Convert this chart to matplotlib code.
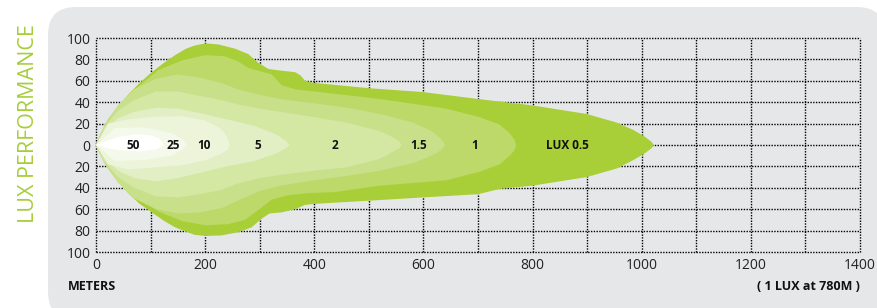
import numpy as np
import matplotlib
matplotlib.use("Agg")
import matplotlib.pyplot as plt
from matplotlib.patches import FancyBboxPatch

# ---------------- data (meters, lux-contour half-widths) ----------------
lux_levels = ["0.5", "1", "1.5", "2", "5", "10", "25", "50"]
lux_colors = ["#a8cf38", "#bcd96a", "#c8e08a", "#d4e7a3",
              "#e2eec4", "#ecf4d9", "#f5f9eb", "#ffffff"]

# upper edge (x, y) and lower edge (x, y) of each contour
top_05 = [(0, 0), (8, 10), (22, 24), (40, 36), (59, 47), (80, 58), (102, 68), (125, 77),
          (145, 84), (165, 90), (181, 93), (201, 95), (224, 94), (255, 90), (279, 85),
          (297, 77), (316, 71), (340, 69.5), (365, 68), (375, 65), (383, 60), (401, 58),
          (502, 53), (599, 49.5), (700, 43), (800, 37), (899, 29), (954, 21), (985, 14),
          (1005, 8), (1018, 3), (1022, 0)]
bot_05 = [(0, 0), (8, -9), (22, -22), (40, -34), (59, -45), (80, -55), (102, -63),
          (125, -71), (145, -77), (165, -81), (181, -84), (201, -85), (230, -84.5),
          (261, -81.5), (285, -77), (303, -69), (318, -64), (340, -63), (365, -60),
          (383, -56), (401, -55), (502, -52), (599, -49), (700, -46), (740, -41),
          (800, -38), (899, -30), (954, -22), (985, -14), (1005, -8), (1018, -3), (1022, 0)]

top_1 = [(0, 0), (10, 9), (35, 30), (71, 52), (114, 70), (157, 79), (200, 84),
         (236, 83), (261, 78), (279, 72), (322, 66), (340, 56), (365, 52), (401, 50),
         (520, 43), (642, 34), (703, 26), (740, 19), (758, 11), (767, 5), (770, 0)]
bot_1 = [(0, 0), (10, -9), (35, -29), (71, -47), (114, -62), (157, -71), (200, -75),
         (242, -74), (273, -70), (297, -61), (322, -51), (352, -47), (389, -45),
         (438, -44), (520, -38), (642, -33), (703, -25), (740, -18), (758, -10),
         (767, -5), (770, 0)]

top_15 = [(0, 0), (15, 18), (40, 37), (70, 52), (110, 62), (150, 66), (190, 63),
          (230, 58), (260, 52), (300, 47), (337, 43), (400, 39), (459, 35), (520, 29),
          (581, 21), (615, 13), (632, 6), (640, 0)]
bot_15 = [(0, 0), (15, -17), (40, -35), (70, -50), (110, -60), (150, -64), (190, -63),
          (230, -59), (260, -52), (300, -43), (337, -38), (400, -33), (459, -29),
          (520, -24), (581, -17), (615, -10), (632, -5), (640, 0)]

top_2 = [(0, 0), (15, 16), (40, 32), (70, 42), (110, 50), (150, 50), (190, 46),
         (230, 42), (260, 38), (300, 34), (337, 31), (400, 26), (459, 21), (520, 13),
         (545, 7), (556, 3), (560, 0)]
bot_2 = [(0, 0), (15, -15), (40, -30), (70, -40), (110, -48), (150, -49), (190, -46),
         (230, -42), (260, -36), (300, -31), (337, -28), (400, -24), (459, -21),
         (520, -13), (545, -6), (556, -3), (560, 0)]

top_5 = [(0, 0), (15, 13), (40, 25), (70, 31), (110, 35), (150, 34), (190, 30),
         (240, 24), (290, 18), (330, 10), (348, 4), (355, 0)]
bot_5 = [(0, 0), (15, -12), (40, -24), (70, -31), (110, -34), (150, -31), (190, -26),
         (240, -20), (290, -15), (330, -8), (348, -3), (355, 0)]

top_10 = [(0, 0), (22, 20), (59, 24), (108, 26.5), (157, 27), (200, 23), (230, 15),
          (242, 6), (245, 0)]
bot_10 = [(0, 0), (22, -18), (59, -23), (108, -21), (157, -19), (200, -14.5), (230, -8),
          (242, -4), (245, 0)]

top_25 = [(0, 0), (35, 16), (90, 16.5), (139, 11), (160, 5), (166, 0)]
bot_25 = [(0, 0), (35, -15), (90, -14), (139, -10), (160, -4), (166, 0)]

top_50 = [(0, 0), (20, 4), (45, 8), (75, 10), (100, 9), (115, 6), (125, 0)]
bot_50 = [(0, 0), (20, -3), (45, -5), (80, -6), (110, -4), (125, 0)]

tops = [top_05, top_1, top_15, top_2, top_5, top_10, top_25, top_50]
bots = [bot_05, bot_1, bot_15, bot_2, bot_5, bot_10, bot_25, bot_50]

label_texts = ["LUX 0.5", "1", "1.5", "2", "5", "10", "25", "50"]
label_x = [864, 694, 592, 438, 297, 198, 141, 68]

x_ticks = [0, 200, 400, 600, 800, 1000, 1200, 1400]
y_ticks = [-100, -80, -60, -40, -20, 0, 20, 40, 60, 80, 100]

# ---------------- figure ----------------
W, H = 877, 308
fig = plt.figure(figsize=(W / 100, H / 100), dpi=100)
fig.patch.set_facecolor("white")

# background rounded panel, in pixel coordinates
bg = fig.add_axes([0, 0, 1, 1])
bg.set_xlim(0, W)
bg.set_ylim(H, 0)
bg.axis("off")
bg.add_patch(FancyBboxPatch((48, 7), 885 - 48, 320 - 7,
                            boxstyle="round,pad=0,rounding_size=28",
                            facecolor="#e6e7e9", edgecolor="none"))

fam = ["Open Sans", "DejaVu Sans"]

ax = fig.add_axes([96 / W, 1 - 252 / H, (860 - 96) / W, (252 - 38) / H])
ax.set_facecolor("none")
ax.set_xlim(0, 1400)
ax.set_ylim(-100, 100)

for s in ax.spines.values():
    s.set_visible(False)

# dotted grid
for gx in range(0, 1401, 100):
    ax.axvline(gx, color="black", lw=1.0, ls=(0, (1.0, 1.0)), zorder=0, clip_on=False)
for gy in y_ticks:
    ax.axhline(gy, color="black", lw=1.0, ls=(0, (1.0, 1.0)), zorder=0, clip_on=False)

# beam contours
for t, b, c in zip(tops, bots, lux_colors):
    pts = np.array(t + b[::-1])
    ax.fill(pts[:, 0], pts[:, 1], color=c, lw=0, zorder=2)

for txt, lx in zip(label_texts, label_x):
    ax.text(lx, 0, txt, ha="center", va="center", fontsize=8.5, fontweight="bold",
            family=fam, color="#111111", zorder=5)

ax.set_xticks(x_ticks)
ax.set_xticklabels([str(v) for v in x_ticks], family=fam, fontsize=10, color="#222222")
ax.set_yticks(y_ticks)
ax.set_yticklabels([str(abs(v)) for v in y_ticks], family=fam, fontsize=10, color="#222222")
ax.tick_params(length=0, pad=4)

fig.text(29 / W, 1 - 124 / H, "LUX PERFORMANCE", rotation=90, ha="center", va="center",
         fontsize=15.5, color="#a6ce39", family=fam)
fig.text(68 / W, 1 - 286 / H, "METERS", ha="left", va="center", fontsize=9,
         fontweight="bold", family=fam, color="#111111")
fig.text(860 / W, 1 - 287 / H, "( 1 LUX at 780M )", ha="right", va="center", fontsize=9,
         fontweight="bold", family=fam, color="#111111")

fig.savefig("out.png", dpi=100)
